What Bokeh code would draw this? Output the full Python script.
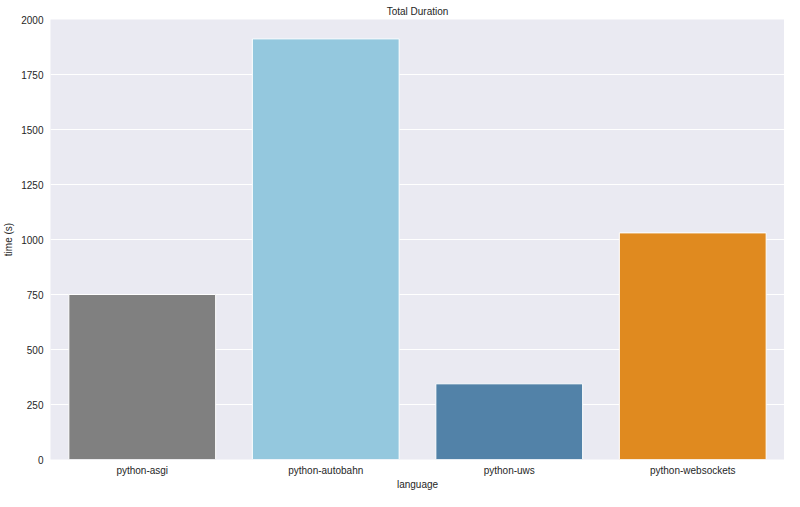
from bokeh.plotting import figure
from bokeh.models import ColumnDataSource, FactorRange, SingleIntervalTicker, NumeralTickFormatter, Title
from bokeh.embed import file_html
from bokeh.resources import INLINE

languages = ["python-asgi", "python-autobahn", "python-uws", "python-websockets"]
durations = [750, 1912, 344, 1030]
palette = ["#808080", "#94c8de", "#5282a8", "#e08a1f"]

src = ColumnDataSource(dict(language=languages, duration=durations, color=palette))

p = figure(width=784, height=491, output_backend="svg", toolbar_location=None,
           x_range=FactorRange(factors=languages, range_padding=0),
           y_range=(0, 2000), title="Total Duration",
           min_border_left=30, min_border_right=0, min_border_top=4, min_border_bottom=0)

p.vbar(x="language", top="duration", width=0.8, source=src,
       fill_color="color", line_color="white", line_width=1)

FONT = "Liberation Sans"
TXT = "#262626"
p.background_fill_color = "#eaeaf2"
p.border_fill_color = "white"
p.outline_line_color = None

p.title.align = "center"
p.title.text_font = FONT
p.title.text_font_size = "10px"
p.title.text_font_style = "normal"
p.title.text_color = TXT
p.title.offset = 0
p.title.standoff = 6

p.yaxis.ticker = SingleIntervalTicker(interval=250)
p.yaxis.formatter = NumeralTickFormatter(format="0")
for ax in (p.xaxis, p.yaxis):
    ax.axis_line_color = None
    ax.major_tick_line_color = None
    ax.minor_tick_line_color = None
    ax.major_tick_out = 0
    ax.major_tick_in = 0
    ax.minor_tick_out = 0
    ax.minor_tick_in = 0
    ax.major_label_text_font = FONT
    ax.major_label_text_font_size = "10px"
    ax.major_label_text_color = TXT
    ax.axis_label_text_font = FONT
    ax.axis_label_text_font_size = "10px"
    ax.axis_label_text_font_style = "normal"
    ax.axis_label_text_color = TXT

p.xaxis.major_label_standoff = 5
p.yaxis.major_label_standoff = 7
p.yaxis.axis_label_standoff = 4
p.yaxis.axis_label = "time (s)"

# x-axis title placed in the panel under the axis
xtitle = Title(text="language", align="center", vertical_align="top",
               text_font=FONT, text_font_size="10px",
               text_font_style="normal", text_color=TXT, standoff=0, offset=0)
p.add_layout(xtitle, "below")

p.xgrid.grid_line_color = None
p.ygrid.grid_line_color = "white"
p.ygrid.grid_line_width = 1

open("out.html", "w").write(file_html(p, INLINE))
